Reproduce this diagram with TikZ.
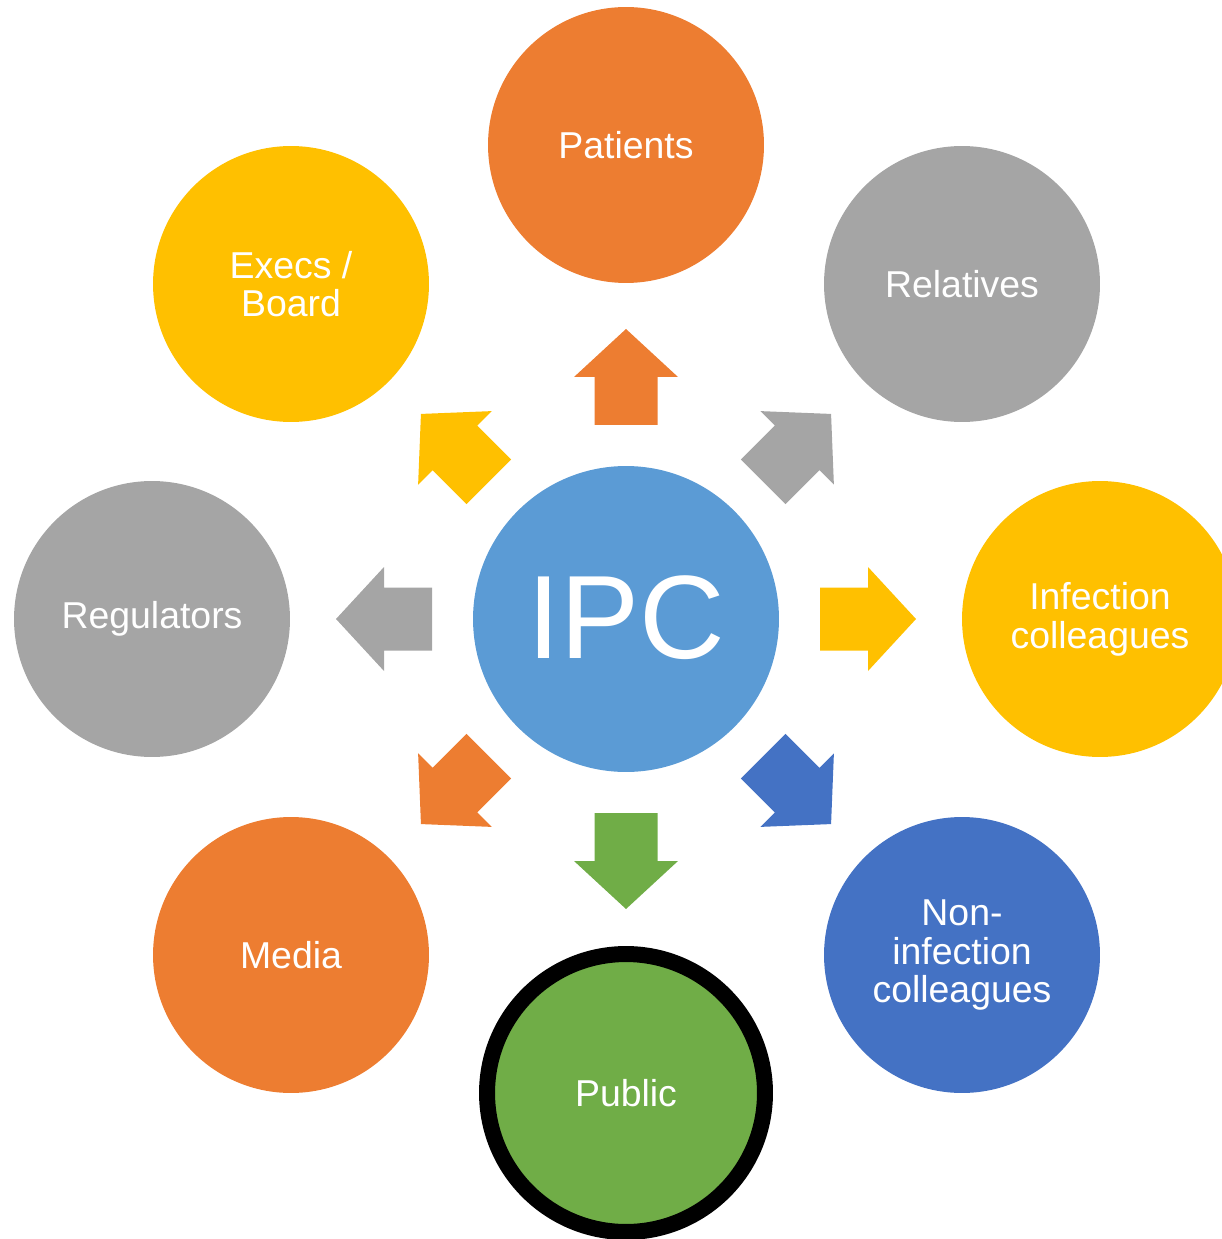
\documentclass[tikz,border=0pt]{standalone}
\usepackage{fontspec}
\setmainfont{Liberation Sans}

\definecolor{ipcblue}{HTML}{5B9BD5}
\definecolor{pptorange}{HTML}{ED7D31}
\definecolor{pptgray}{HTML}{A5A5A5}
\definecolor{pptyellow}{HTML}{FFC000}
\definecolor{pptblue}{HTML}{4472C4}
\definecolor{pptgreen}{HTML}{70AD47}

\tikzset{
	group/.style={circle, minimum size=5.52cm, inner sep=0pt, align=center,
		text=white, font=\fontsize{21.3}{22}\selectfont},
	hub/.style={circle, minimum size=6.12cm, inner sep=0pt, fill=ipcblue,
		text=white, font=\fontsize{67.5}{67.5}\selectfont}
}

\begin{document}
\begin{tikzpicture}[x=0.02cm, y=-0.02cm]
	\useasboundingbox (0,0) rectangle (1222,1239);
	\clip (0,0) rectangle (1222,1239);
	
	%centre
	\node[hub] (ipc) at (626,619){\raisebox{0.08cm}{IPC}};
	
	%outer ring
	\node[group, fill=pptorange] (patients) at (626,145){Patients};
	\node[group, fill=pptgray] (relatives) at (962,284){Relatives};
	\node[group, fill=pptyellow] (infcol) at (1100,619){Infection\\colleagues};
	\node[group, fill=pptblue] (noninfcol) at (962,955){Non-\\infection\\colleagues};
	\node[group, fill=pptgreen, draw=black, line width=0.32cm, minimum size=5.56cm] (public) at (626,1093){Public};
	\node[group, fill=pptorange] (media) at (291,955){Media};
	\node[group, fill=pptgray] (regulators) at (152,619){Regulators};
	\node[group, fill=pptyellow] (execs) at (291,284){Execs /\\Board};
	
	%block arrows
	\foreach \ang/\col in {90/pptorange, 45/pptgray, 0/pptyellow, -45/pptblue,
		-90/pptgreen, -135/pptorange, 180/pptgray, 135/pptyellow}{
		\begin{scope}[shift={(ipc.center)}, rotate=\ang]
			\fill[\col] (194,-31.5) -- (242,-31.5) -- (242,-52) -- (290,0)
				-- (242,52) -- (242,31.5) -- (194,31.5) -- cycle;
		\end{scope}
	}
	
\end{tikzpicture}
\end{document}
